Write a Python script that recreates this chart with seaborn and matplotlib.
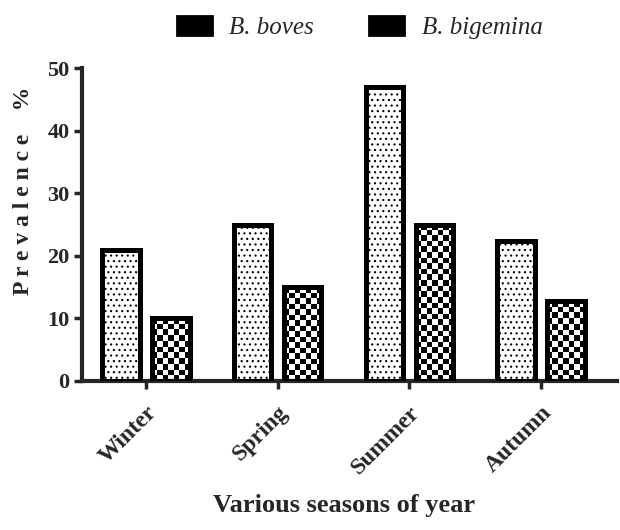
import numpy as np
import pandas as pd
import matplotlib
matplotlib.use("Agg")
import matplotlib.pyplot as plt
import seaborn as sns
from matplotlib.patches import Patch

seasons = ["Winter", "Spring", "Summer", "Autumn"]
species = ["B. boves", "B. bigemina"]
boves = [21, 25, 47, 22.3]
bigemina = [10, 15, 25, 12.7]
yticks = [0, 10, 20, 30, 40, 50]

df = pd.DataFrame({
    "season": seasons * 2,
    "species": [species[0]] * 4 + [species[1]] * 4,
    "prevalence": boves + bigemina,
})

sns.set_style("ticks")
plt.rcParams["font.family"] = ["Liberation Serif", "DejaVu Serif"]
plt.rcParams["hatch.linewidth"] = 0.8

fig = plt.figure(figsize=(6.2, 5.3), dpi=100)
ax = fig.add_axes([82 / 620, 1 - 381 / 530, (617 - 82) / 620, (381 - 68) / 530])

sns.barplot(data=df, x="season", y="prevalence", hue="species", order=seasons,
            hue_order=species, palette=["white", "white"], edgecolor="black",
            linewidth=3.6, width=0.76, gap=0.25, ax=ax, legend=False, zorder=3)

ax.set_xlim(-0.485, 3.576)
ax.set_ylim(0, 50)

# dotted pattern for B. boves
for bar in ax.containers[0]:
    bar.set_hatch("...")

# checkerboard for B. bigemina
fig.canvas.draw()
sq = 5.5
for bar in ax.containers[1]:
    x, w, h = bar.get_x(), bar.get_width(), bar.get_height()
    p0 = ax.transData.transform((x, 0))
    p1 = ax.transData.transform((x + w, h))
    ncol = max(1, int(round((p1[0] - p0[0]) / sq)))
    nrow = max(1, int(round((p1[1] - p0[1]) / sq)))
    ii, jj = np.indices((nrow, ncol))
    checker = (ii + jj) % 2
    bar.set_facecolor("none")
    im = ax.imshow(checker, cmap="gray", extent=[x, x + w, 0, h], origin="lower",
                   aspect="auto", interpolation="nearest", zorder=2.5)
    im.set_clip_path(bar)

ax.set_xlim(-0.485, 3.576)
ax.set_ylim(0, 50)
ax.set_yticks(yticks)
ax.set_yticklabels([str(t) for t in yticks], fontsize=16, fontweight="bold")
ax.set_xticks(range(len(seasons)))
ax.set_xticklabels(seasons, rotation=45, ha="right", rotation_mode="anchor",
                   fontsize=17, fontweight="bold")

sns.despine(ax=ax)
for s in ["left", "bottom"]:
    ax.spines[s].set_linewidth(3)
ax.tick_params(axis="both", width=2.5, length=6, direction="out", pad=3)
ax.tick_params(axis="x", pad=9)

ax.set_ylabel("P r e v a l e n c e    %", fontsize=17, fontweight="bold")
ax.yaxis.set_label_coords(-0.09, 0.607)
ax.set_xlabel("Various seasons of year", fontsize=19, fontweight="bold")
ax.xaxis.set_label_coords(0.49, -0.36)

handles = [Patch(facecolor="black", edgecolor="black", linewidth=2),
           Patch(facecolor="black", edgecolor="black", linewidth=2)]
leg = fig.legend(handles, species, loc="center", bbox_to_anchor=(0.58, 0.948), ncol=2,
                 frameon=False, handlelength=1.4, handleheight=0.8, handletextpad=0.7,
                 columnspacing=2.2,
                 prop={"family": "Liberation Serif", "style": "italic", "size": 18})

fig.savefig("out.png", dpi=100)
